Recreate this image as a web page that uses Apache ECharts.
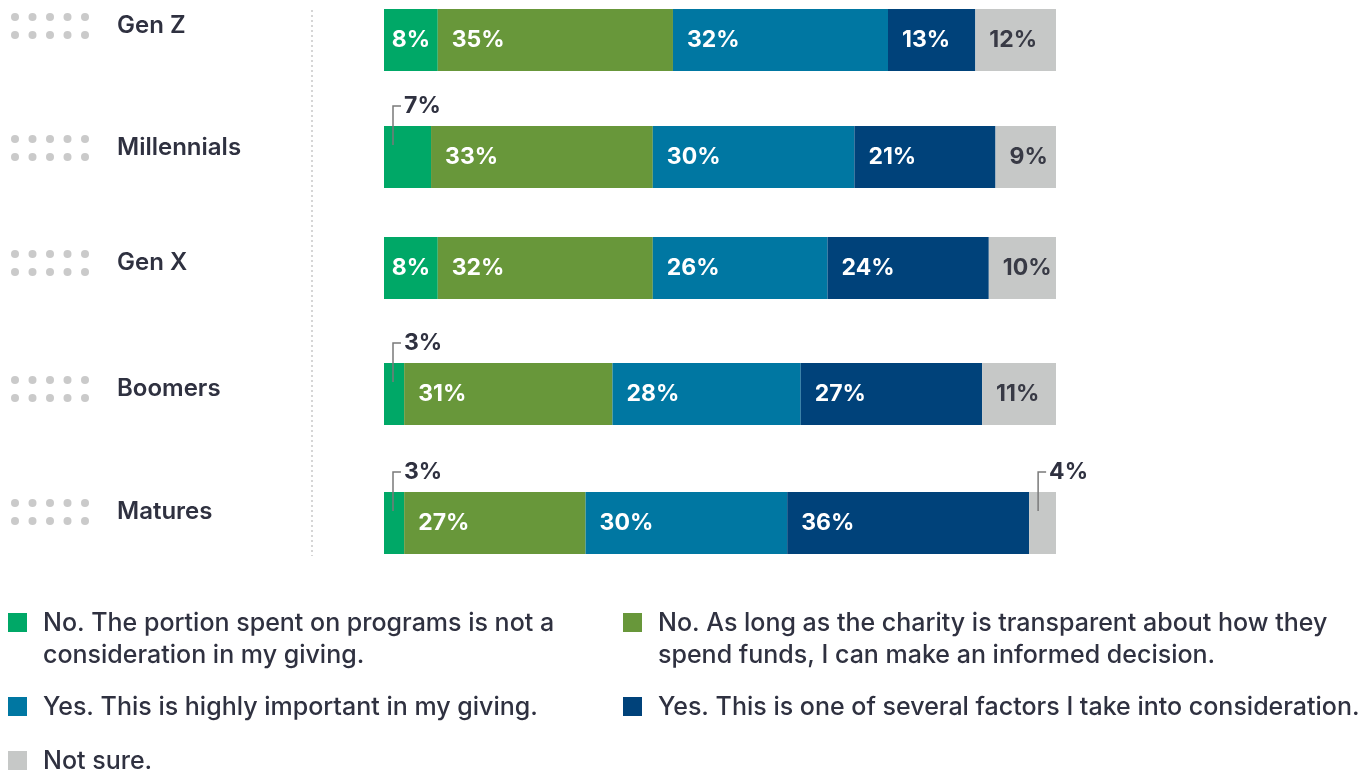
<!DOCTYPE html>
<html>
<head>
<meta charset="utf-8">
<script src="https://cdn.jsdelivr.net/npm/echarts@6/dist/echarts.min.js"></script>
<style>
  html, body { margin: 0; padding: 0; background: #fff; }
  #chartArea { width: 1372px; height: 773px; }
</style>
</head>
<body>
<div id="chartArea"></div>
<script>
// data
var categories = ['Gen Z', 'Millennials', 'Gen X', 'Boomers', 'Matures'];
var seriesNames = [
    'No. The portion spent on programs is not a\nconsideration in my giving.',
    'No. As long as the charity is transparent about how they\nspend funds, I can make an informed decision.',
    'Yes. This is highly important in my giving.',
    'Yes. This is one of several factors I take into consideration.',
    'Not sure.'
];
var noNotConsidered = [8, 7, 8, 3, 3];
var noTransparent = [35, 33, 32, 31, 27];
var yesHighly = [32, 30, 26, 28, 30];
var yesOneOfSeveral = [13, 21, 24, 27, 36];
var notSure = [12, 9, 10, 11, 4];

var values = [noNotConsidered, noTransparent, yesHighly, yesOneOfSeveral, notSure];
var colors = ['#00a867', '#68973a', '#0077a2', '#00427a', '#c6c8c7'];

// layout
var FONT = 'Inter';
var TEXT = '#2f3140';
var BAR_H = 62;
var rowTop = [9, 126, 237, 363, 492];
var labelMid = [26, 148, 263, 389, 512];
var gridLeft = 384, gridWidth = 672;

var grids = [], xAxes = [], yAxes = [], series = [], graphics = [];

categories.forEach(function (cat, r) {
    var shift = (rowTop[r] + BAR_H / 2) - labelMid[r];
    grids.push({left: gridLeft, width: gridWidth, top: rowTop[r], height: BAR_H});
    xAxes.push({type: 'value', gridIndex: r, min: 0, max: 100, show: false});
    yAxes.push({
        type: 'category', gridIndex: r, data: [cat],
        axisLine: {show: false}, axisTick: {show: false},
        axisLabel: {
            align: 'left', margin: gridLeft - 117,
            formatter: function (v) { return '{t|' + v + '}'; },
            rich: {
                t: {
                    fontFamily: FONT, fontSize: 24, fontWeight: 600, color: TEXT,
                    padding: [0, 0, 2 * shift, 0]
                }
            }
        }
    });

    var start = 0;
    var callouts = [];
    values.forEach(function (arr, s) {
        var v = arr[r];
        series.push({
            name: seriesNames[s],
            type: 'bar',
            xAxisIndex: r, yAxisIndex: r,
            stack: 'row' + r,
            barWidth: BAR_H,
            data: [v],
            itemStyle: {color: colors[s]},
            label: {
                show: v > 7,
                position: v > 8 ? 'insideLeft' : 'inside',
                distance: 14,
                formatter: '{c}%',
                fontFamily: FONT, fontSize: 23, fontWeight: 'bold',
                color: s == 4 ? '#383a45' : '#fff'
            },
            silent: true
        });
        if (v <= 7) callouts.push([start, 0, v]);
        start += v;
    });

    if (callouts.length) {
        series.push({
            type: 'custom',
            xAxisIndex: r, yAxisIndex: r,
            z: 5,
            data: callouts,
            encode: {x: 0, y: 1},
            renderItem: function (params, api) {
                var p = api.coord([api.value(0), 0]);
                var top = p[1] - BAR_H / 2;
                var lx = p[0] + 9, ly = top - 20;
                return {
                    type: 'group',
                    children: [{
                        type: 'polyline',
                        shape: {points: [[lx, top + 19], [lx, ly], [lx + 8, ly]]},
                        style: {stroke: '#7a7a7a', lineWidth: 1.5, fill: null}
                    }, {
                        type: 'text', x: lx + 11, y: ly,
                        style: {
                            text: api.value(2) + '%', fill: TEXT,
                            fontFamily: FONT, fontSize: 23, fontWeight: 'bold',
                            verticalAlign: 'middle', align: 'left'
                        }
                    }]
                };
            }
        });
    }

    // dotted icon next to each category
    for (var row = 0; row < 2; row++) {
        for (var c = 0; c < 5; c++) {
            graphics.push({
                type: 'circle',
                shape: {cx: 15 + c * 17.5, cy: labelMid[r] - 9 + row * 18, r: 4},
                style: {fill: '#cacaca'}
            });
        }
    }
});

// dotted divider
graphics.push({
    type: 'line',
    shape: {x1: 312, y1: 10, x2: 312, y2: 556},
    style: {stroke: '#c8c8c8', lineWidth: 1.5, lineDash: [2, 3]}
});

// legend, two columns
var legendPos = [[8, 613], [623, 613], [8, 697], [623, 697], [8, 751]];
var LEG_LH = 32;
seriesNames.forEach(function (name, s) {
    var pos = legendPos[s];
    graphics.push({
        type: 'rect',
        shape: {x: pos[0], y: pos[1], width: 19, height: 19},
        style: {fill: colors[s]}
    });
    graphics.push({
        type: 'text',
        x: pos[0] + 35, y: pos[1] + 10 - LEG_LH / 2,
        style: {
            text: name, fill: TEXT,
            fontFamily: FONT, fontSize: 25, fontWeight: 500,
            lineHeight: LEG_LH, verticalAlign: 'top', align: 'left'
        }
    });
});

var option = {
    backgroundColor: '#fff',
    animation: false,
    grid: grids,
    xAxis: xAxes,
    yAxis: yAxes,
    series: series,
    graphic: graphics
};

var myChart = echarts.init(document.getElementById('chartArea'));
myChart.setOption(option);
</script>
</body>
</html>
